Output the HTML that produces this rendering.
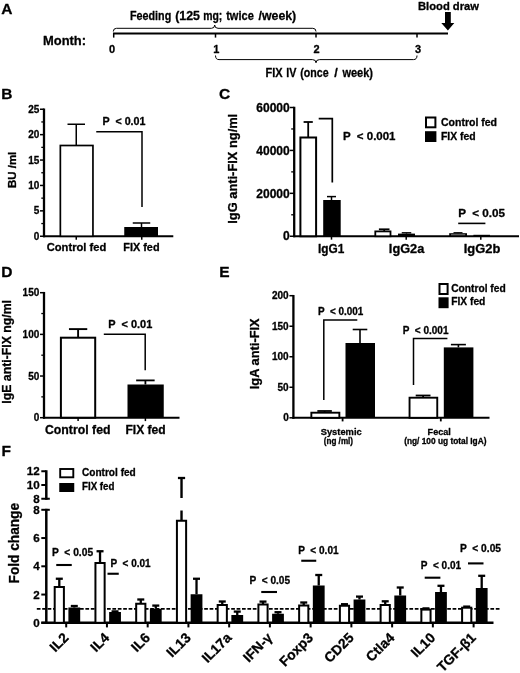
<!DOCTYPE html>
<html lang="en">
<head>
<meta charset="utf-8">
<title>Figure: oral FIX feeding suppresses anti-FIX antibody responses</title>
<style>
html,body{margin:0;padding:0;background:#fff;}
body{width:520px;height:673px;overflow:hidden;}
svg{display:block;}
svg text{font-family:"Liberation Sans", sans-serif;font-weight:bold;fill:#000;stroke:#000;stroke-width:0.3px;stroke-linejoin:round;}
</style>
</head>
<body>
<svg width="520" height="673" viewBox="0 0 520 673" shape-rendering="geometricPrecision">
<rect x="0" y="0" width="520" height="673" fill="#fff" stroke="none"/>
<g stroke="#000" fill="none" style="filter:blur(0.4px)">
<!-- panel letters -->
<text x="1.3" y="13.9" font-size="15.5">A</text>
<text x="1.3" y="98.9" font-size="15.5">B</text>
<text x="219" y="99" font-size="15.5">C</text>
<text x="1.3" y="276.5" font-size="15.5">D</text>
<text x="219.3" y="276.6" font-size="15.5">E</text>
<text x="1.5" y="455.6" font-size="15.5">F</text>
<!-- panel A: timeline -->
<text x="43" y="44.5" font-size="13" textLength="43" lengthAdjust="spacingAndGlyphs">Month:</text>
<text y="20" font-size="12.6"><tspan x="130" textLength="41.2" lengthAdjust="spacingAndGlyphs">Feeding</tspan> <tspan x="175.2" textLength="24.8" lengthAdjust="spacingAndGlyphs">(125</tspan> <tspan x="203.2" textLength="19.1" lengthAdjust="spacingAndGlyphs">mg;</tspan> <tspan x="226.2" textLength="27.6" lengthAdjust="spacingAndGlyphs">twice</tspan> <tspan x="258.6" textLength="37.6" lengthAdjust="spacingAndGlyphs">/week)</tspan></text>
<path d="M113.3,31.5 Q113.3,28.3 116.5,28.3 L211.5,28.3 Q214.7,28.3 214.7,25 Q214.7,28.3 218,28.3 L312.8,28.3 Q316,28.3 316,31.5" fill="none" stroke-width="1"/>
<line x1="113" y1="33.45" x2="448" y2="33.45" stroke-width="2.1"/>
<line x1="113.7" y1="33" x2="113.7" y2="37.6" stroke-width="1.5"/>
<line x1="215.5" y1="33" x2="215.5" y2="37.6" stroke-width="1.5"/>
<line x1="316" y1="33" x2="316" y2="37.6" stroke-width="1.5"/>
<line x1="417" y1="33" x2="417" y2="37.6" stroke-width="1.5"/>
<text x="112" y="53" font-size="11" text-anchor="middle">0</text>
<text x="216.2" y="53" font-size="11" text-anchor="middle">1</text>
<text x="316.6" y="53" font-size="11" text-anchor="middle">2</text>
<text x="418" y="53" font-size="11" text-anchor="middle">3</text>
<path d="M215.5,55.5 Q215.5,59.6 219,59.6 L312.5,59.6 Q316,59.6 316,62.8 Q316,59.6 319.5,59.6 L413.5,59.6 Q417,59.6 417,55.5" fill="none" stroke-width="1"/>
<text y="77" font-size="12.6"><tspan x="265.5" textLength="17.1" lengthAdjust="spacingAndGlyphs">FIX</tspan> <tspan x="286.2" textLength="10.2" lengthAdjust="spacingAndGlyphs">IV</tspan> <tspan x="300.2" textLength="28.4" lengthAdjust="spacingAndGlyphs">(once</tspan> <tspan x="334.3">/</tspan> <tspan x="342.4" textLength="30.6" lengthAdjust="spacingAndGlyphs">week)</tspan></text>
<text x="418" y="9.6" font-size="11" textLength="61" lengthAdjust="spacingAndGlyphs">Blood draw</text>
<polygon points="445,12 450.8,12 450.8,23 454.3,23 447.9,30.6 441.3,23 445,23" fill="#000" stroke="none"/>
<!-- panel B -->
<line x1="44" y1="108.5" x2="44" y2="237.25" stroke-width="2.3"/>
<line x1="43" y1="236.25" x2="173.3" y2="236.25" stroke-width="2"/>
<line x1="40" y1="236.25" x2="44" y2="236.25" stroke-width="1.5"/>
<text x="39.3" y="239.85" font-size="10" text-anchor="end">0</text>
<line x1="41.3" y1="223.55" x2="44" y2="223.55" stroke-width="1.3"/>
<line x1="40" y1="210.85" x2="44" y2="210.85" stroke-width="1.5"/>
<text x="39.3" y="214.45" font-size="10" text-anchor="end">5</text>
<line x1="41.3" y1="198.15" x2="44" y2="198.15" stroke-width="1.3"/>
<line x1="40" y1="185.45" x2="44" y2="185.45" stroke-width="1.5"/>
<text x="39.3" y="189.05" font-size="10" text-anchor="end">10</text>
<line x1="41.3" y1="172.75" x2="44" y2="172.75" stroke-width="1.3"/>
<line x1="40" y1="160.05" x2="44" y2="160.05" stroke-width="1.5"/>
<text x="39.3" y="163.65" font-size="10" text-anchor="end">15</text>
<line x1="41.3" y1="147.35" x2="44" y2="147.35" stroke-width="1.3"/>
<line x1="40" y1="134.65" x2="44" y2="134.65" stroke-width="1.5"/>
<text x="39.3" y="138.25" font-size="10" text-anchor="end">20</text>
<line x1="41.3" y1="121.95" x2="44" y2="121.95" stroke-width="1.3"/>
<line x1="40" y1="109.25" x2="44" y2="109.25" stroke-width="1.5"/>
<text x="39.3" y="112.85" font-size="10" text-anchor="end">25</text>
<line x1="76.25" y1="236.25" x2="76.25" y2="239.65" stroke-width="1.5"/>
<line x1="141.75" y1="236.25" x2="141.75" y2="239.65" stroke-width="1.5"/>
<rect x="60.35" y="145.5" width="32.6" height="90.75" fill="#fff" stroke-width="1.7"/>
<line x1="76.25" y1="124.25" x2="76.25" y2="145.5" stroke-width="1.5"/>
<line x1="67.5" y1="124.25" x2="85" y2="124.25" stroke-width="1.5"/>
<rect x="124.25" y="227" width="33.75" height="9.25" fill="#000" stroke="none"/>
<line x1="141.5" y1="223" x2="141.5" y2="227" stroke-width="1.5"/>
<line x1="132.75" y1="223" x2="150.25" y2="223" stroke-width="1.5"/>
<path d="M96.25,131.75 H142 V207" fill="none" stroke-width="1.5"/>
<text x="102.5" y="124.5" font-size="10.5" textLength="43" lengthAdjust="spacingAndGlyphs">P &#160;&lt; 0.01</text>
<text x="46.75" y="250.5" font-size="11" textLength="59.5" lengthAdjust="spacingAndGlyphs">Control fed</text>
<text x="123.25" y="250.5" font-size="11" textLength="36.3" lengthAdjust="spacingAndGlyphs">FIX fed</text>
<text transform="translate(16 188) rotate(-90)" font-size="11.5" textLength="36.3" lengthAdjust="spacingAndGlyphs">BU /ml</text>
<!-- panel C -->
<line x1="294.2" y1="106.75" x2="294.2" y2="237.25" stroke-width="2.3"/>
<line x1="293.2" y1="236.25" x2="519" y2="236.25" stroke-width="2.1"/>
<line x1="289.8" y1="236.25" x2="294.2" y2="236.25" stroke-width="1.5"/>
<text x="289.7" y="240.45" font-size="12" text-anchor="end">0</text>
<line x1="291.2" y1="214.79" x2="294.2" y2="214.79" stroke-width="1.3"/>
<line x1="289.8" y1="193.33" x2="294.2" y2="193.33" stroke-width="1.5"/>
<text x="289.7" y="197.53" font-size="12" text-anchor="end">20000</text>
<line x1="291.2" y1="171.88" x2="294.2" y2="171.88" stroke-width="1.3"/>
<line x1="289.8" y1="150.42" x2="294.2" y2="150.42" stroke-width="1.5"/>
<text x="289.7" y="154.62" font-size="12" text-anchor="end">40000</text>
<line x1="291.2" y1="128.96" x2="294.2" y2="128.96" stroke-width="1.3"/>
<line x1="289.8" y1="107.5" x2="294.2" y2="107.5" stroke-width="1.5"/>
<text x="289.7" y="111.7" font-size="12" text-anchor="end">60000</text>
<line x1="331.5" y1="236.25" x2="331.5" y2="239.65" stroke-width="1.5"/>
<line x1="406.2" y1="236.25" x2="406.2" y2="239.65" stroke-width="1.5"/>
<line x1="480.8" y1="236.25" x2="480.8" y2="239.65" stroke-width="1.5"/>
<rect x="300.4" y="137.5" width="15.7" height="98.75" fill="#fff" stroke-width="2"/>
<line x1="308.2" y1="122" x2="308.2" y2="137.5" stroke-width="1.8"/>
<line x1="303.6" y1="122" x2="312.8" y2="122" stroke-width="1.8"/>
<rect x="323.2" y="200" width="17.5" height="36.25" fill="#000" stroke="none"/>
<line x1="331.5" y1="196.6" x2="331.5" y2="200" stroke-width="1.5"/>
<line x1="327" y1="196.6" x2="336" y2="196.6" stroke-width="1.5"/>
<rect x="375.3" y="231.4" width="15.2" height="4.85" fill="#fff" stroke-width="1.8"/>
<line x1="384.2" y1="229.3" x2="384.2" y2="231.4" stroke-width="1.8"/>
<line x1="378.9" y1="229.3" x2="389.5" y2="229.3" stroke-width="1.8"/>
<rect x="398" y="233.6" width="17" height="2.65" fill="#000" stroke="none"/>
<line x1="406.5" y1="232.8" x2="406.5" y2="233.6" stroke-width="1.4"/>
<line x1="401.75" y1="232.8" x2="411.25" y2="232.8" stroke-width="1.4"/>
<rect x="449.2" y="233.2" width="17.8" height="3.05" fill="#000" stroke="none"/>
<rect x="451" y="234.4" width="14.2" height="0.8" fill="#999" stroke="none"/>
<line x1="458" y1="232.7" x2="458" y2="233.2" stroke-width="1.2"/>
<line x1="453.5" y1="232.7" x2="462.5" y2="232.7" stroke-width="1.2"/>
<rect x="473.4" y="234.8" width="16.6" height="1.45" fill="#000" stroke="none"/>
<path d="M318.7,118.6 H332.3 V182.5" fill="none" stroke-width="1.7"/>
<text x="343" y="140" font-size="11" textLength="52.5" lengthAdjust="spacingAndGlyphs">P &#160;&lt; 0.001</text>
<text x="458.2" y="216.6" font-size="11" textLength="46.8" lengthAdjust="spacingAndGlyphs">P &#160;&lt; 0.05</text>
<line x1="458.2" y1="223.4" x2="485.4" y2="223.4" stroke-width="1.6"/>
<text x="331.2" y="252.9" font-size="12.5" text-anchor="middle" textLength="26.3" lengthAdjust="spacingAndGlyphs">IgG1</text>
<text x="406.6" y="252.9" font-size="12.5" text-anchor="middle" textLength="35.5" lengthAdjust="spacingAndGlyphs">IgG2a</text>
<text x="482" y="252.9" font-size="12.5" text-anchor="middle" textLength="36.6" lengthAdjust="spacingAndGlyphs">IgG2b</text>
<text transform="translate(236.6 223.7) rotate(-90)" font-size="12.5" textLength="109.9" lengthAdjust="spacingAndGlyphs">IgG anti-FIX ng/ml</text>
<rect x="426" y="117.5" width="9.4" height="9.8" fill="#fff" stroke-width="2"/>
<rect x="425" y="131.2" width="11.4" height="10.8" fill="#000" stroke="none"/>
<text x="441" y="125.8" font-size="10.5" textLength="56" lengthAdjust="spacingAndGlyphs">Control fed</text>
<text x="441" y="140" font-size="10.5" textLength="34.7" lengthAdjust="spacingAndGlyphs">FIX fed</text>
<!-- panel D -->
<line x1="44" y1="291.95" x2="44" y2="418.7" stroke-width="2.3"/>
<line x1="43" y1="417.7" x2="179.5" y2="417.7" stroke-width="2"/>
<line x1="40" y1="417.7" x2="44" y2="417.7" stroke-width="1.5"/>
<text x="39.3" y="421.3" font-size="10" text-anchor="end">0</text>
<line x1="41.3" y1="396.87" x2="44" y2="396.87" stroke-width="1.3"/>
<line x1="40" y1="376.03" x2="44" y2="376.03" stroke-width="1.5"/>
<text x="39.3" y="379.63" font-size="10" text-anchor="end">50</text>
<line x1="41.3" y1="355.2" x2="44" y2="355.2" stroke-width="1.3"/>
<line x1="40" y1="334.37" x2="44" y2="334.37" stroke-width="1.5"/>
<text x="39.3" y="337.97" font-size="10" text-anchor="end">100</text>
<line x1="41.3" y1="313.53" x2="44" y2="313.53" stroke-width="1.3"/>
<line x1="40" y1="292.7" x2="44" y2="292.7" stroke-width="1.5"/>
<text x="39.3" y="296.3" font-size="10" text-anchor="end">150</text>
<line x1="78.1" y1="417.7" x2="78.1" y2="421.1" stroke-width="1.5"/>
<line x1="145.4" y1="417.7" x2="145.4" y2="421.1" stroke-width="1.5"/>
<rect x="60.9" y="337.7" width="34.3" height="80" fill="#fff" stroke-width="2"/>
<line x1="78.1" y1="329.1" x2="78.1" y2="337.7" stroke-width="1.9"/>
<line x1="68.95" y1="329.1" x2="87.25" y2="329.1" stroke-width="1.9"/>
<rect x="127.5" y="384.5" width="36.25" height="33.2" fill="#000" stroke="none"/>
<line x1="145.4" y1="380.4" x2="145.4" y2="384.5" stroke-width="1.8"/>
<line x1="136.15" y1="380.4" x2="154.65" y2="380.4" stroke-width="1.8"/>
<path d="M103.8,334.3 H145.2 V370.3" fill="none" stroke-width="1.5"/>
<text x="108.25" y="328" font-size="10.5" textLength="44" lengthAdjust="spacingAndGlyphs">P &#160;&lt; 0.01</text>
<text x="45" y="433.75" font-size="12" textLength="65.5" lengthAdjust="spacingAndGlyphs">Control fed</text>
<text x="125.5" y="433.75" font-size="12" textLength="40.2" lengthAdjust="spacingAndGlyphs">FIX fed</text>
<text transform="translate(10.8 403.7) rotate(-90)" font-size="12" textLength="103.7" lengthAdjust="spacingAndGlyphs">IgE anti-FIX ng/ml</text>
<!-- panel E -->
<line x1="293.4" y1="294.95" x2="293.4" y2="418.8" stroke-width="2.3"/>
<line x1="292.4" y1="417.8" x2="489.5" y2="417.8" stroke-width="2.1"/>
<line x1="289.4" y1="417.8" x2="293.4" y2="417.8" stroke-width="1.5"/>
<text x="288.7" y="421.4" font-size="10" text-anchor="end">0</text>
<line x1="289.4" y1="387.27" x2="293.4" y2="387.27" stroke-width="1.5"/>
<text x="288.7" y="390.88" font-size="10" text-anchor="end">50</text>
<line x1="289.4" y1="356.75" x2="293.4" y2="356.75" stroke-width="1.5"/>
<text x="288.7" y="360.35" font-size="10" text-anchor="end">100</text>
<line x1="289.4" y1="326.23" x2="293.4" y2="326.23" stroke-width="1.5"/>
<text x="288.7" y="329.83" font-size="10" text-anchor="end">150</text>
<line x1="289.4" y1="295.7" x2="293.4" y2="295.7" stroke-width="1.5"/>
<text x="288.7" y="299.3" font-size="10" text-anchor="end">200</text>
<line x1="342.6" y1="417.8" x2="342.6" y2="421.4" stroke-width="1.8"/>
<line x1="440.8" y1="417.8" x2="440.8" y2="421.4" stroke-width="1.8"/>
<rect x="311.35" y="412.7" width="28" height="5.1" fill="#fff" stroke-width="1.9"/>
<line x1="324.6" y1="411" x2="324.6" y2="412.7" stroke-width="1.8"/>
<line x1="317.35" y1="411" x2="331.85" y2="411" stroke-width="1.8"/>
<rect x="345.5" y="343" width="29.5" height="74.8" fill="#000" stroke="none"/>
<line x1="360" y1="329.5" x2="360" y2="343" stroke-width="1.6"/>
<line x1="352.7" y1="329.5" x2="367.3" y2="329.5" stroke-width="1.6"/>
<rect x="409.55" y="397.7" width="27.7" height="20.1" fill="#fff" stroke-width="1.9"/>
<line x1="423.1" y1="395.5" x2="423.1" y2="397.7" stroke-width="1.8"/>
<line x1="415.7" y1="395.5" x2="430.5" y2="395.5" stroke-width="1.8"/>
<rect x="443.8" y="347.4" width="29.6" height="70.4" fill="#000" stroke="none"/>
<line x1="458.4" y1="344.6" x2="458.4" y2="347.4" stroke-width="1.6"/>
<line x1="450.9" y1="344.6" x2="465.9" y2="344.6" stroke-width="1.6"/>
<path d="M357.3,320 H323.8 V400" fill="none" stroke-width="1.5"/>
<path d="M447.4,338.4 H413.5 V385" fill="none" stroke-width="1.5"/>
<text x="318" y="314.5" font-size="10" textLength="45.3" lengthAdjust="spacingAndGlyphs">P &#160;&lt; 0.001</text>
<text x="402.8" y="334" font-size="10" textLength="45.7" lengthAdjust="spacingAndGlyphs">P &#160;&lt; 0.001</text>
<text x="341.2" y="434.5" font-size="9.5" text-anchor="middle" textLength="41" lengthAdjust="spacingAndGlyphs">Systemic</text>
<text x="338.4" y="443.8" font-size="8.2" text-anchor="middle" textLength="29.3" lengthAdjust="spacingAndGlyphs">(ng /ml)</text>
<text x="439.2" y="434.5" font-size="9.5" text-anchor="middle" textLength="23.2" lengthAdjust="spacingAndGlyphs">Fecal</text>
<text x="445.3" y="444.2" font-size="8.3" text-anchor="middle" textLength="82.3" lengthAdjust="spacingAndGlyphs">(ng/ 100 ug total IgA)</text>
<text transform="translate(258.9 389.2) rotate(-90)" font-size="12.5" textLength="70.9" lengthAdjust="spacingAndGlyphs">IgA anti-FIX</text>
<rect x="439.5" y="284" width="8.1" height="10" fill="#fff" stroke-width="2"/>
<rect x="438.5" y="297.3" width="10.1" height="10.9" fill="#000" stroke="none"/>
<text x="451.2" y="292" font-size="10.3" textLength="54.5" lengthAdjust="spacingAndGlyphs">Control fed</text>
<text x="451.2" y="305.4" font-size="10.3" textLength="34.2" lengthAdjust="spacingAndGlyphs">FIX fed</text>
<!-- panel F -->
<line x1="46.3" y1="508.8" x2="46.3" y2="624" stroke-width="2.5"/>
<line x1="41.3" y1="509.8" x2="49.8" y2="509.8" stroke-width="2"/>
<line x1="41.3" y1="622.8" x2="46.3" y2="622.8" stroke-width="2"/>
<line x1="41.3" y1="594.55" x2="46.3" y2="594.55" stroke-width="2"/>
<line x1="41.3" y1="566.3" x2="46.3" y2="566.3" stroke-width="2"/>
<line x1="41.3" y1="538.05" x2="46.3" y2="538.05" stroke-width="2"/>
<text x="39.7" y="626.9" font-size="11.6" text-anchor="end">0</text>
<text x="39.7" y="598.65" font-size="11.6" text-anchor="end">2</text>
<text x="39.7" y="570.4" font-size="11.6" text-anchor="end">4</text>
<text x="39.7" y="542.15" font-size="11.6" text-anchor="end">6</text>
<text x="39.7" y="513.9" font-size="11.6" text-anchor="end">8</text>
<line x1="46.3" y1="470.25" x2="46.3" y2="499.75" stroke-width="2.5"/>
<line x1="41.3" y1="498.75" x2="49.8" y2="498.75" stroke-width="2"/>
<line x1="41.3" y1="485" x2="46.3" y2="485" stroke-width="2"/>
<line x1="41.3" y1="471.25" x2="46.3" y2="471.25" stroke-width="2"/>
<text x="39.7" y="475.35" font-size="11.6" text-anchor="end">12</text>
<text x="39.7" y="489.1" font-size="11.6" text-anchor="end">10</text>
<text x="39.7" y="502.85" font-size="11.6" text-anchor="end">8</text>
<line x1="41.3" y1="622.8" x2="493.5" y2="622.8" stroke-width="2.5"/>
<line x1="36.8" y1="608.8" x2="499.5" y2="608.8" stroke-width="1.7" stroke-dasharray="3.7 1.7"/>
<line x1="66.2" y1="622.8" x2="66.2" y2="627.4" stroke-width="2"/>
<rect x="54.7" y="587" width="9.2" height="35.8" fill="#fff" stroke-width="2"/>
<line x1="59.3" y1="578.75" x2="59.3" y2="587" stroke-width="2.3"/>
<line x1="55.8" y1="578.75" x2="62.8" y2="578.75" stroke-width="2.3"/>
<rect x="68.4" y="607.5" width="11.8" height="15.3" fill="#000" stroke="none"/>
<line x1="74.3" y1="606" x2="74.3" y2="607.5" stroke-width="2.3"/>
<line x1="70.8" y1="606" x2="77.8" y2="606" stroke-width="2.3"/>
<text transform="translate(69.4 638.6) rotate(-45)" font-size="13.8" text-anchor="end">IL2</text>
<line x1="106.94" y1="622.8" x2="106.94" y2="627.4" stroke-width="2"/>
<rect x="95.44" y="563" width="9.2" height="59.8" fill="#fff" stroke-width="2"/>
<line x1="100.04" y1="551.25" x2="100.04" y2="563" stroke-width="2.3"/>
<line x1="96.54" y1="551.25" x2="103.54" y2="551.25" stroke-width="2.3"/>
<rect x="109.14" y="612" width="11.8" height="10.8" fill="#000" stroke="none"/>
<line x1="115.04" y1="611.4" x2="115.04" y2="612" stroke-width="2.3"/>
<line x1="111.54" y1="611.4" x2="118.54" y2="611.4" stroke-width="2.3"/>
<text transform="translate(110.14 638.6) rotate(-45)" font-size="13.8" text-anchor="end">IL4</text>
<line x1="147.68" y1="622.8" x2="147.68" y2="627.4" stroke-width="2"/>
<rect x="136.18" y="603.75" width="9.2" height="19.05" fill="#fff" stroke-width="2"/>
<line x1="140.78" y1="599.5" x2="140.78" y2="603.75" stroke-width="2.3"/>
<line x1="137.28" y1="599.5" x2="144.28" y2="599.5" stroke-width="2.3"/>
<rect x="149.88" y="608.75" width="11.8" height="14.05" fill="#000" stroke="none"/>
<line x1="155.78" y1="605.6" x2="155.78" y2="608.75" stroke-width="2.3"/>
<line x1="152.28" y1="605.6" x2="159.28" y2="605.6" stroke-width="2.3"/>
<text transform="translate(150.88 638.6) rotate(-45)" font-size="13.8" text-anchor="end">IL6</text>
<line x1="188.42" y1="622.8" x2="188.42" y2="627.4" stroke-width="2"/>
<rect x="176.92" y="520.75" width="9.2" height="102.05" fill="#fff" stroke-width="2"/>
<rect x="190.62" y="594.25" width="11.8" height="28.55" fill="#000" stroke="none"/>
<line x1="196.52" y1="578.75" x2="196.52" y2="594.25" stroke-width="2.3"/>
<line x1="193.02" y1="578.75" x2="200.02" y2="578.75" stroke-width="2.3"/>
<text transform="translate(191.62 638.6) rotate(-45)" font-size="13.8" text-anchor="end">IL13</text>
<line x1="229.16" y1="622.8" x2="229.16" y2="627.4" stroke-width="2"/>
<rect x="217.66" y="605" width="9.2" height="17.8" fill="#fff" stroke-width="2"/>
<line x1="222.26" y1="601.5" x2="222.26" y2="605" stroke-width="2.3"/>
<line x1="218.76" y1="601.5" x2="225.76" y2="601.5" stroke-width="2.3"/>
<rect x="231.36" y="615" width="11.8" height="7.8" fill="#000" stroke="none"/>
<line x1="237.26" y1="611.6" x2="237.26" y2="615" stroke-width="2.3"/>
<line x1="233.76" y1="611.6" x2="240.76" y2="611.6" stroke-width="2.3"/>
<text transform="translate(232.36 638.6) rotate(-45)" font-size="13.8" text-anchor="end">IL17a</text>
<line x1="269.9" y1="622.8" x2="269.9" y2="627.4" stroke-width="2"/>
<rect x="258.4" y="604.5" width="9.2" height="18.3" fill="#fff" stroke-width="2"/>
<line x1="263" y1="601.6" x2="263" y2="604.5" stroke-width="2.3"/>
<line x1="259.5" y1="601.6" x2="266.5" y2="601.6" stroke-width="2.3"/>
<rect x="272.1" y="613.75" width="11.8" height="9.05" fill="#000" stroke="none"/>
<line x1="278" y1="612.2" x2="278" y2="613.75" stroke-width="2.3"/>
<line x1="274.5" y1="612.2" x2="281.5" y2="612.2" stroke-width="2.3"/>
<text transform="translate(273.1 638.6) rotate(-45)" font-size="13.8" text-anchor="end">IFN-&#947;</text>
<line x1="310.64" y1="622.8" x2="310.64" y2="627.4" stroke-width="2"/>
<rect x="299.14" y="605.5" width="9.2" height="17.3" fill="#fff" stroke-width="2"/>
<line x1="303.74" y1="602.5" x2="303.74" y2="605.5" stroke-width="2.3"/>
<line x1="300.24" y1="602.5" x2="307.24" y2="602.5" stroke-width="2.3"/>
<rect x="312.84" y="585.5" width="11.8" height="37.3" fill="#000" stroke="none"/>
<line x1="318.74" y1="575" x2="318.74" y2="585.5" stroke-width="2.3"/>
<line x1="315.24" y1="575" x2="322.24" y2="575" stroke-width="2.3"/>
<text transform="translate(313.84 638.6) rotate(-45)" font-size="13.8" text-anchor="end">Foxp3</text>
<line x1="351.38" y1="622.8" x2="351.38" y2="627.4" stroke-width="2"/>
<rect x="339.88" y="605.75" width="9.2" height="17.05" fill="#fff" stroke-width="2"/>
<line x1="344.48" y1="604.2" x2="344.48" y2="605.75" stroke-width="2.3"/>
<line x1="340.98" y1="604.2" x2="347.98" y2="604.2" stroke-width="2.3"/>
<rect x="353.58" y="599.5" width="11.8" height="23.3" fill="#000" stroke="none"/>
<line x1="359.48" y1="596.6" x2="359.48" y2="599.5" stroke-width="2.3"/>
<line x1="355.98" y1="596.6" x2="362.98" y2="596.6" stroke-width="2.3"/>
<text transform="translate(354.58 638.6) rotate(-45)" font-size="13.8" text-anchor="end">CD25</text>
<line x1="392.12" y1="622.8" x2="392.12" y2="627.4" stroke-width="2"/>
<rect x="380.62" y="605" width="9.2" height="17.8" fill="#fff" stroke-width="2"/>
<line x1="385.22" y1="601.3" x2="385.22" y2="605" stroke-width="2.3"/>
<line x1="381.72" y1="601.3" x2="388.72" y2="601.3" stroke-width="2.3"/>
<rect x="394.32" y="595.5" width="11.8" height="27.3" fill="#000" stroke="none"/>
<line x1="400.22" y1="587.5" x2="400.22" y2="595.5" stroke-width="2.3"/>
<line x1="396.72" y1="587.5" x2="403.72" y2="587.5" stroke-width="2.3"/>
<text transform="translate(395.32 638.6) rotate(-45)" font-size="13.8" text-anchor="end">Ctla4</text>
<line x1="432.86" y1="622.8" x2="432.86" y2="627.4" stroke-width="2"/>
<rect x="421.36" y="609.6" width="9.2" height="13.2" fill="#fff" stroke-width="2"/>
<line x1="425.96" y1="608.4" x2="425.96" y2="609.6" stroke-width="2.3"/>
<line x1="422.46" y1="608.4" x2="429.46" y2="608.4" stroke-width="2.3"/>
<rect x="435.06" y="592" width="11.8" height="30.8" fill="#000" stroke="none"/>
<line x1="440.96" y1="585.8" x2="440.96" y2="592" stroke-width="2.3"/>
<line x1="437.46" y1="585.8" x2="444.46" y2="585.8" stroke-width="2.3"/>
<text transform="translate(436.06 638.6) rotate(-45)" font-size="13.8" text-anchor="end">IL10</text>
<line x1="473.6" y1="622.8" x2="473.6" y2="627.4" stroke-width="2"/>
<rect x="462.1" y="607.7" width="9.2" height="15.1" fill="#fff" stroke-width="2"/>
<line x1="466.7" y1="606.6" x2="466.7" y2="607.7" stroke-width="2.3"/>
<line x1="463.2" y1="606.6" x2="470.2" y2="606.6" stroke-width="2.3"/>
<rect x="475.8" y="588" width="11.8" height="34.8" fill="#000" stroke="none"/>
<line x1="481.7" y1="575.8" x2="481.7" y2="588" stroke-width="2.3"/>
<line x1="478.2" y1="575.8" x2="485.2" y2="575.8" stroke-width="2.3"/>
<text transform="translate(476.8 638.6) rotate(-45)" font-size="13.8" text-anchor="end">TGF-&#946;1</text>
<line x1="181.52" y1="478" x2="181.52" y2="498" stroke-width="2.4"/>
<line x1="177.92" y1="478" x2="185.12" y2="478" stroke-width="2.3"/>
<line x1="181.52" y1="510.5" x2="181.52" y2="520.75" stroke-width="2.4"/>
<text x="52" y="556.3" font-size="10.6" textLength="41.1" lengthAdjust="spacingAndGlyphs">P &#160;&lt; 0.05</text>
<line x1="56.25" y1="565" x2="71.75" y2="565" stroke-width="2.1"/>
<text x="110.5" y="566.6" font-size="10.6" textLength="40.1" lengthAdjust="spacingAndGlyphs">P &#160;&lt; 0.01</text>
<line x1="107.5" y1="573.75" x2="118.75" y2="573.75" stroke-width="2.1"/>
<text x="249.5" y="584.3" font-size="10.6" textLength="40.6" lengthAdjust="spacingAndGlyphs">P &#160;&lt; 0.05</text>
<line x1="261.25" y1="592" x2="277" y2="592" stroke-width="2.1"/>
<text x="298.25" y="554.3" font-size="10.6" textLength="40.35" lengthAdjust="spacingAndGlyphs">P &#160;&lt; 0.01</text>
<line x1="301.25" y1="560.75" x2="316.25" y2="560.75" stroke-width="2.1"/>
<text x="420.8" y="569" font-size="10.6" textLength="40.3" lengthAdjust="spacingAndGlyphs">P &#160;&lt; 0.01</text>
<line x1="424.7" y1="577.7" x2="440.4" y2="577.7" stroke-width="2.1"/>
<text x="460" y="551.6" font-size="10.6" textLength="41" lengthAdjust="spacingAndGlyphs">P &#160;&lt; 0.05</text>
<line x1="468" y1="563.4" x2="483.5" y2="563.4" stroke-width="2.1"/>
<text transform="translate(18.5 583.4) rotate(-90)" font-size="14" textLength="80.4" lengthAdjust="spacingAndGlyphs">Fold change</text>
<rect x="60.2" y="469" width="13.1" height="8.3" fill="#fff" stroke-width="1.9"/>
<rect x="59.25" y="483" width="15" height="9" fill="#000" stroke="none"/>
<text x="82" y="476.3" font-size="10" textLength="53.75" lengthAdjust="spacingAndGlyphs">Control fed</text>
<text x="82" y="490" font-size="10" textLength="32.5" lengthAdjust="spacingAndGlyphs">FIX fed</text>
</g>
</svg>
</body>
</html>
